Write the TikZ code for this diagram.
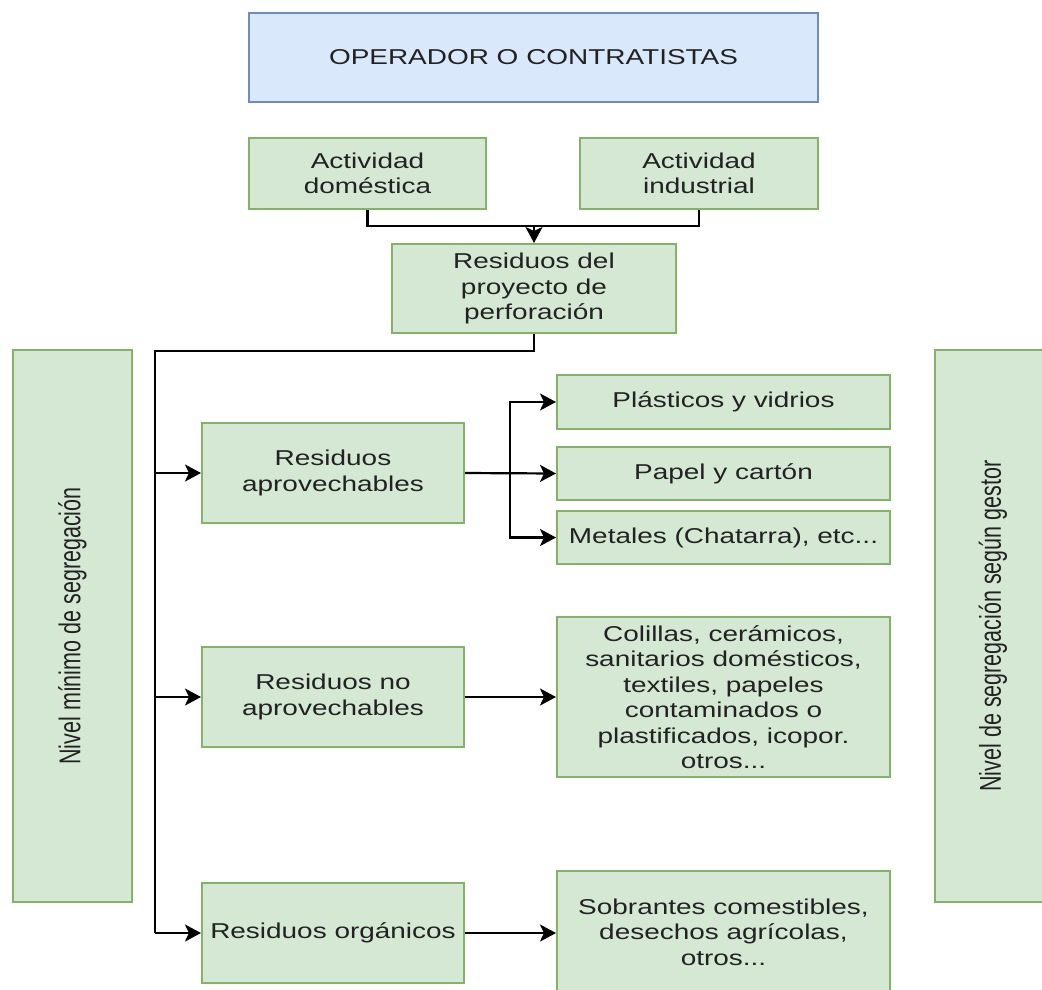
\documentclass[tikz,border=0pt]{standalone}
\usepackage{fontspec}
\usepackage{graphicx}
\setmainfont{Liberation Sans}[FakeStretch=1.3]
\newfontfamily\rotfont{Liberation Sans}
\usetikzlibrary{arrows.meta}
\definecolor{gfill}{HTML}{D5E8D4}
\definecolor{gdraw}{HTML}{82B366}
\definecolor{bfill}{HTML}{DAE8FC}
\definecolor{bdraw}{HTML}{6C8EBF}
\definecolor{txt}{HTML}{222222}
\begin{document}
\begin{tikzpicture}[x=1pt,y=-1pt,
  every node/.style={font=\fontsize{21.5}{25.5}\selectfont, text=txt, align=center, inner sep=0pt},
  gbox/.style={draw=gdraw, fill=gfill, line width=2pt, rectangle},
  bbox/.style={draw=bdraw, fill=bfill, line width=2pt, rectangle},
  conn/.style={draw=black, line width=2.2pt},
  arr/.style={conn, -{Stealth[length=16pt,width=17pt,inset=4pt]}},
  vlabel/.style={rotate=90, font=\fontsize{21.5}{25.5}\rotfont}
]
\useasboundingbox (0,0) rectangle (1042,989);

\node[bbox, minimum width=569pt, minimum height=89pt] (op) at (533.5,57.5) {OPERADOR O CONTRATISTAS};
\node[gbox, minimum width=237pt, minimum height=71pt] (dom) at (367.5,173.5) {Actividad\\dom\'estica};
\node[gbox, minimum width=238pt, minimum height=71pt] (ind) at (699,173.5) {Actividad\\industrial};
\node[gbox, minimum width=284pt, minimum height=89pt] (res) at (534,288.5) {Residuos del\\proyecto de\\perforaci\'on};

\node[gbox, minimum width=119pt, minimum height=552pt] (nmin) at (72.5,626) {};
\node[vlabel] (nminlbl) at (nmin.center) {\scalebox{1}[1.4]{Nivel m\'inimo de segregaci\'on}};
\node[gbox, minimum width=116pt, minimum height=552pt] (ngest) at (993,626) {};
\node[vlabel] (ngestlbl) at (ngest.center) {\scalebox{1}[1.4]{Nivel de segregaci\'on seg\'un gestor}};

\node[gbox, minimum width=262pt, minimum height=100pt] (ra) at (333,473) {Residuos\\aprovechables};
\node[gbox, minimum width=262pt, minimum height=100pt] (rna) at (333,697) {Residuos no\\aprovechables};
\node[gbox, minimum width=262pt, minimum height=100pt] (ro) at (333,933) {Residuos org\'anicos};

\node[gbox, minimum width=333pt, minimum height=54pt] (pla) at (723.5,402) {Pl\'asticos y vidrios};
\node[gbox, minimum width=333pt, minimum height=53pt] (pap) at (723.5,473.5) {Papel y cart\'on};
\node[gbox, minimum width=333pt, minimum height=53pt] (met) at (723.5,537.5) {Metales (Chatarra), etc...};
\node[gbox, minimum width=333pt, minimum height=160pt] (col) at (723.5,697) {Colillas, cer\'amicos,\\sanitarios dom\'esticos,\\textiles, papeles\\contaminados o\\plastificados, icopor.\\otros...};
\node[gbox, minimum width=333pt, minimum height=122pt] (sob) at (723.5,932) {Sobrantes comestibles,\\desechos agr\'icolas,\\otros...};

% top merge
\coordinate (j) at (534,226);
\draw[conn] (dom.south) |- (j) -| (ind.south);
\draw[arr] (j) -- (res.north);

% trunk
\coordinate (t1) at (155,351);
\coordinate (t4) at (155,933);
\draw[conn] (res.south) |- (t1) -- (t4);
\draw[arr] (ra.west -| t1) -- (ra.west);
\draw[arr] (rna.west -| t1) -- (rna.west);
\draw[arr] (t4) -- (ro.west);

% branches
\coordinate (b) at (510,473);
\draw[arr] (ra.east) -- (pap.west);
\draw[arr] (b) |- (pla.west);
\draw[arr] (b) |- (met.west);
\draw[arr] (rna.east) -- (col.west |- rna.east);
\draw[arr] (ro.east) -- (sob.west |- ro.east);
\end{tikzpicture}
\end{document}
